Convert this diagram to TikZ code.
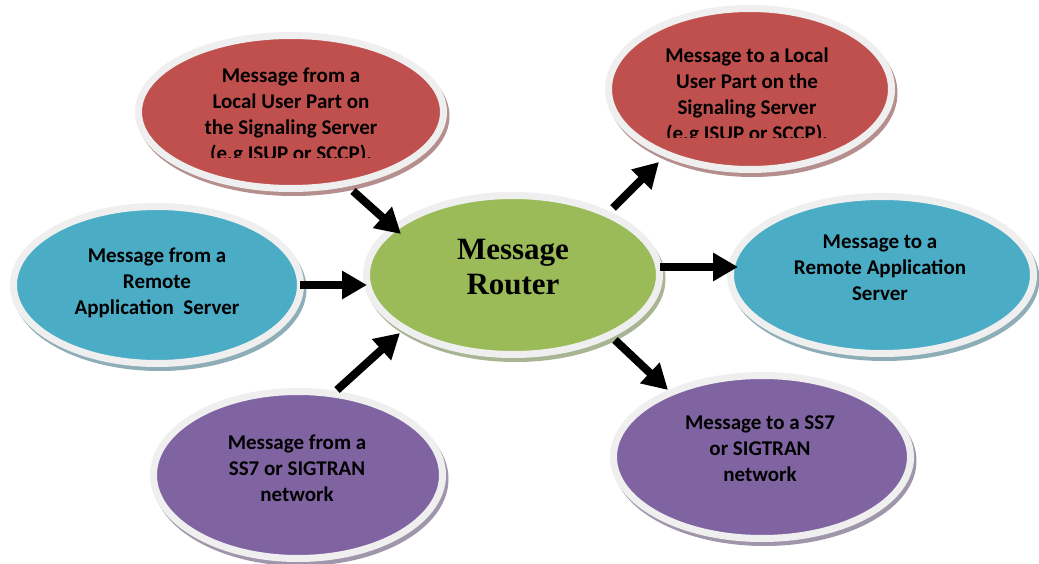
\documentclass[tikz,border=0pt]{standalone}
\usepackage{fontspec}
\setmainfont{Carlito}
\newfontfamily\routerfont{Liberation Serif}
\usetikzlibrary{shapes.geometric,arrows.meta}
\definecolor{rd}{HTML}{C0504D}
\definecolor{bl}{HTML}{4BACC6}
\definecolor{gr}{HTML}{9BBB59}
\definecolor{pu}{HTML}{8064A2}
\definecolor{rim}{HTML}{EFEFEF}
\tikzset{
  bub/.style={ellipse, draw=rim, line width=7pt, inner sep=0pt},
  lbl/.style={align=center, font=\fontsize{21}{26}\selectfont\bfseries, text=black},
  flow/.style={line width=8pt, -{Triangle[length=25pt,width=27pt]}},
}
\newcommand{\bubble}[7]{% name, x, y, rx, ry, color
  \fill[#6!45!gray!75!white] (#2+2.5,#3+4) ellipse [x radius=#4, y radius=#5];
  \node[bub, fill=#6, minimum width=2*#4-7, minimum height=2*#5-7] (#1) at (#2,#3) {};
}
\begin{document}
\begin{tikzpicture}[x=1pt,y=-1pt]
\useasboundingbox (0,0) rectangle (1039,564);
\fill[white] (0,0) rectangle (1039,564);

\bubble{rl}{291}{112}{156}{80}{rd}{}
\bubble{rr}{750}{89}{145}{84}{rd}{}
\bubble{bll}{157}{285}{147}{82}{bl}{}
\bubble{g}{513}{275}{150}{83}{gr}{}
\bubble{brr}{882}{275}{155}{82}{bl}{}
\bubble{pl}{298}{475}{148}{87}{pu}{}
\bubble{pr}{762}{457}{152}{85}{pu}{}

\begin{scope}
  \clip (0,0) rectangle (1039,158);
  \node[lbl] (rlt) at (291,116) {Message from a\\Local User Part on\\the Signaling Server\\(e.g ISUP or SCCP).};
\end{scope}
\begin{scope}
  \clip (0,0) rectangle (1039,138);
  \node[lbl] (rrt) at (747,96) {Message to a Local\\User Part on the\\Signaling Server\\(e.g ISUP or SCCP).};
\end{scope}
\node[lbl] (bllt) at (157,283) {Message from a\\Remote\\Application\ \ Server};
\node[lbl] (brrt) at (880,268) {Message to a\\Remote Application\\Server};
\node[lbl] (plt) at (297,468) {Message from a\\SS7 or SIGTRAN\\network};
\node[lbl] (prt) at (760,449) {Message to a SS7\\or SIGTRAN\\network};
\node[align=center, font=\routerfont\fontsize{31}{35}\selectfont\bfseries] (gt) at (513,267) {Message\\Router};

\coordinate (a1s) at (353,191); \coordinate (a1e) at (401,234);
\coordinate (a2s) at (300,285); \coordinate (a2e) at (367,285);
\coordinate (a3s) at (337,390); \coordinate (a3e) at (400,333);
\coordinate (a4s) at (613,208); \coordinate (a4e) at (659,162);
\coordinate (a5s) at (660,267); \coordinate (a5e) at (738,267);
\coordinate (a6s) at (615,340); \coordinate (a6e) at (668,390);

\draw[flow] (a1s) -- (a1e);
\draw[flow] (a2s) -- (a2e);
\draw[flow] (a3s) -- (a3e);
\draw[flow] (a4s) -- (a4e);
\draw[flow] (a5s) -- (a5e);
\draw[flow] (a6s) -- (a6e);
\end{tikzpicture}
\end{document}
